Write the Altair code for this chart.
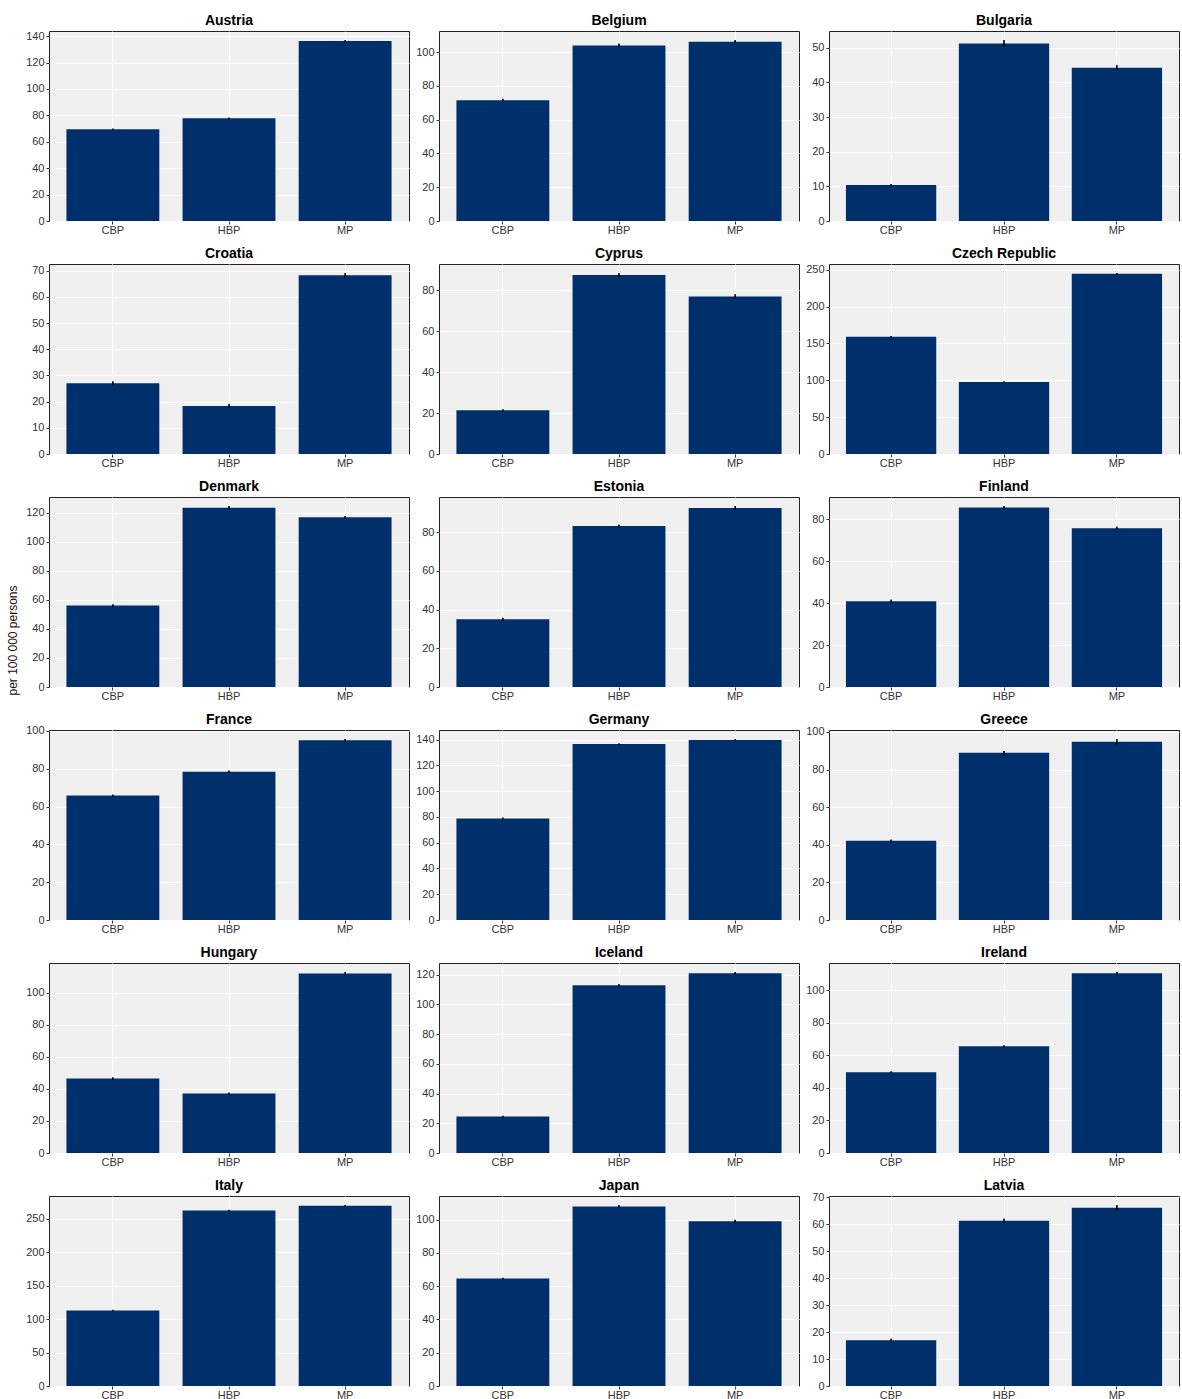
import altair as alt
import pandas as pd

countries = ["Austria", "Belgium", "Bulgaria", "Croatia", "Cyprus", "Czech Republic",
             "Denmark", "Estonia", "Finland", "France", "Germany", "Greece",
             "Hungary", "Iceland", "Ireland", "Italy", "Japan", "Latvia"]
categories = ["CBP", "HBP", "MP"]

cbp = [69.5, 71.5, 10.4, 27.0, 21.3, 159.0, 56.1, 35.0, 40.9, 65.8, 78.9, 42.1,
       46.5, 24.5, 49.6, 113.0, 64.6, 17.0]
hbp = [77.8, 104.0, 51.2, 18.3, 87.3, 97.8, 123.6, 83.2, 85.5, 78.4, 136.6, 88.9,
       37.1, 112.8, 65.6, 262.5, 108.0, 61.3]
mp = [136.2, 106.2, 44.2, 68.3, 76.9, 244.6, 117.0, 92.5, 75.6, 95.1, 139.8, 94.7,
      112.1, 120.9, 110.4, 269.5, 99.0, 66.1]

err_cbp = [0.6, 0.9, 0.3, 0.8, 0.5, 1.0, 1.0, 0.8, 0.8, 0.6, 0.6, 0.7,
           0.8, 0.6, 0.6, 0.8, 0.5, 0.5]
err_hbp = [0.6, 1.1, 1.0, 0.8, 1.0, 0.8, 1.1, 0.8, 0.7, 0.6, 0.6, 1.0,
           0.7, 0.9, 0.6, 0.8, 0.8, 0.8]
err_mp = [0.8, 1.0, 0.8, 0.8, 1.0, 1.0, 0.9, 1.0, 0.8, 0.6, 0.7, 1.5,
          0.9, 0.8, 0.7, 1.0, 0.9, 1.0]

tick_step = [20, 20, 10, 10, 20, 50, 20, 20, 20, 20, 20, 20, 20, 20, 20, 50, 20, 10]

BAR = "#00306B"
FONT = "Liberation Sans"

charts = []
for i, name in enumerate(countries):
    vals = [cbp[i], hbp[i], mp[i]]
    errs = [err_cbp[i], err_hbp[i], err_mp[i]]
    df = pd.DataFrame({
        "cat": categories,
        "value": vals,
        "lo": [v - e for v, e in zip(vals, errs)],
        "hi": [v + e for v, e in zip(vals, errs)],
    })
    top = max(df["hi"]) * 1.05
    step = tick_step[i]
    ticks = list(range(0, int(top) + 1, step))

    yscale = alt.Scale(domain=[0, top], nice=False, zero=True)
    xscale = alt.Scale(domain=categories, paddingInner=0.2, paddingOuter=0.15)

    if name == "Denmark":
        yaxis = alt.Axis(values=ticks, title="per 100 000 persons", titleFontSize=12,
                         titleFontWeight="normal", titleFont=FONT, titleColor="#111",
                         titleAngle=270, titleX=-30, titleY=143, titleAlign="center",
                         titleBaseline="bottom")
    else:
        yaxis = alt.Axis(values=ticks, title=None)

    xaxis = alt.Axis(title=None, labelAngle=0, grid=True, bandPosition=0.5,
                     labelPadding=0)

    w = 350 if i % 3 == 2 else 360

    base = alt.Chart(df)
    bars = base.mark_bar(color=BAR).encode(
        x=alt.X("cat:N", scale=xscale, axis=xaxis, sort=categories),
        y=alt.Y("value:Q", scale=yscale, axis=yaxis),
    )
    errbar = base.mark_rule(color="black", strokeWidth=1.6).encode(
        x=alt.X("cat:N", scale=xscale, axis=xaxis, sort=categories),
        y=alt.Y("lo:Q", scale=yscale, axis=yaxis),
        y2="hi:Q",
    )
    title = alt.Chart(pd.DataFrame({"t": [name]})).mark_text(
        font=FONT, fontSize=14, fontWeight="bold", color="#000000",
        align="center", baseline="alphabetic",
    ).encode(
        text="t:N",
        x=alt.value(w / 2),
        y=alt.value(-6),
    )
    ch = alt.layer(bars, errbar, title).properties(width=w, height=190)
    charts.append(ch)

chart = alt.concat(*charts, columns=3, spacing={"row": 10, "column": 5}).properties(
    padding={"left": 5, "top": 13, "right": 0, "bottom": 0}
).configure_view(
    fill="#F0F0F0", stroke="#222222", strokeWidth=1
).configure_axis(
    labelFont=FONT, labelFontSize=11, labelColor="#333333",
    tickColor="#333333", tickSize=3, labelPadding=2,
    domain=False, grid=True, gridColor="#FFFFFF", gridWidth=1,
)

chart.save("out.html", embed_options={"renderer": "svg", "actions": False})
